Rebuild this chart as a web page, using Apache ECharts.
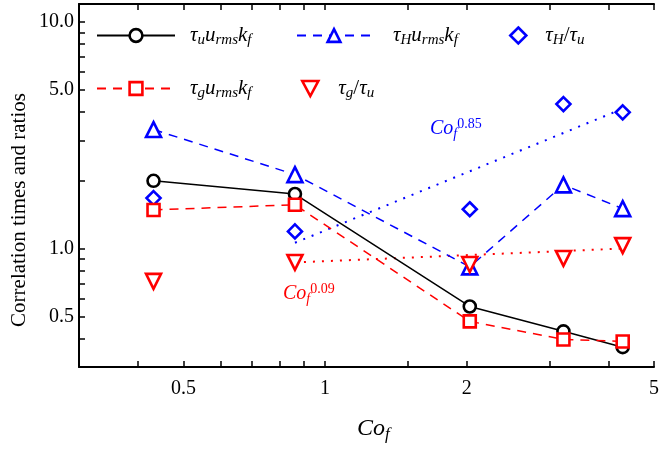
<!DOCTYPE html>
<html>
<head>
<meta charset="utf-8">
<script src="https://cdn.jsdelivr.net/npm/echarts@6/dist/echarts.min.js"></script>
<style>
html,body{margin:0;padding:0;background:#fff;}
#chart{width:662px;height:449px;}
</style>
</head>
<body>
<div id="chart"></div>
<script>
// ---- data ----
const cof = [0.432, 0.863, 2.03, 3.21, 4.29];
const tauU = [1.99, 1.74, 0.555, 0.431, 0.367];
const tauG = [1.48, 1.56, 0.477, 0.397, 0.389];
const tauH = [3.35, 2.12, 0.83, 1.91, 1.50];
const ratioH = [1.67, 1.19, 1.49, 4.34, 3.99];
const ratioG = [0.716, 0.868, 0.85, 0.904, 1.03];
const fitHx = [0.863, 4.29];
const fitHy = [1.06, 4.14];
const fitGx = [0.863, 4.29];
const fitGy = [0.868, 1.0];
const xTickLabels = [0.5, 1, 2, 5];
const xTicks = [0.4, 0.5, 0.6, 0.7, 0.8, 0.9, 1, 1.5, 2, 3, 4, 5];
const yTickLabels = [0.5, 1, 5, 10];
const yTicks = [0.4, 0.5, 0.6, 0.7, 0.8, 0.9, 1, 2, 3, 4, 5, 6, 7, 8, 9, 10];

const pairs = (xs, ys) => xs.map((x, i) => [x, ys[i]]);

const SERIF = 'Liberation Serif';
const BLUE = '#0000ff', RED = '#ff0000', BLACK = '#000000';
const INV_TRI = 'path://M0,0L16,0L8,15Z';

const rich = {
  i: {fontFamily: SERIF, fontStyle: 'italic', fontSize: 21, color: '#000'},
  n: {fontFamily: SERIF, fontSize: 21, color: '#000'},
  s: {fontFamily: SERIF, fontStyle: 'italic', fontSize: 15, color: '#000', padding: [9, 0, 0, 0]}
};
const legendNames = {
  'tauU': '{i|τ}{s|u}{i|u}{s|rms}{i|k}{s|f}',
  'tauH': '{i|τ}{s|H}{i|u}{s|rms}{i|k}{s|f}',
  'ratioH': '{i|τ}{s|H}{n|/}{i|τ}{s|u}',
  'tauG': '{i|τ}{s|g}{i|u}{s|rms}{i|k}{s|f}',
  'ratioG': '{i|τ}{s|g}{n|/}{i|τ}{s|u}'
};
function mkLegend(name, left, top, w, gap, icon) {
  return {
    data: [icon ? {name: name, icon: icon} : name], left: left, top: top, padding: 0,
    itemWidth: w, itemHeight: 16, itemGap: 0,
    selectedMode: false,
    formatter: n => legendNames[n],
    itemStyle: {borderWidth: 2.6},
    textStyle: {rich: rich, padding: [0, 0, 0, gap]}
  };
}

const axisCommon = {
  type: 'log', logBase: 10,
  axisLine: {show: true, lineStyle: {color: '#000', width: 2}},
  splitLine: {show: false},
  minorTick: {show: false},
  axisTick: {inside: true, length: 6, lineStyle: {color: '#000', width: 1.5}}
};

function markStyle(c) {
  return {color: '#fff', borderColor: c, borderWidth: 2.6, opacity: 1};
}

const option = {
  animation: false,
  backgroundColor: '#fff',
  grid: {left: 79, right: 2.5, top: 4, bottom: 82, containLabel: false},
  xAxis: [
    Object.assign({}, axisCommon, {
      min: 0.3, max: 5, position: 'bottom',
      axisTick: Object.assign({}, axisCommon.axisTick, {customValues: xTicks}),
      axisLabel: {customValues: xTickLabels, formatter: v => String(+v), margin: 12,
        fontFamily: SERIF, fontSize: 20, color: '#000'}
    }),
    Object.assign({}, axisCommon, {
      min: 0.3, max: 5, position: 'top',
      axisTick: Object.assign({}, axisCommon.axisTick, {customValues: xTicks}),
      axisLabel: {show: false}
    })
  ],
  yAxis: [
    Object.assign({}, axisCommon, {
      min: 0.3, max: 12,
      axisTick: Object.assign({}, axisCommon.axisTick, {customValues: yTicks}),
      axisLabel: {customValues: yTickLabels, formatter: v => (+v).toFixed(1), margin: 5,
        fontFamily: SERIF, fontSize: 20, color: '#000'}
    })
  ],
  legend: [
    mkLegend('tauU', 96, 25, 78, 10),
    mkLegend('tauH', 296, 25, 74, 17),
    mkLegend('ratioH', 509, 25, 16, 14),
    mkLegend('tauG', 96, 78, 78, 10),
    mkLegend('ratioG', 301, 78, 16, 15, INV_TRI)
  ],
  series: [
    {name: 'fitH', type: 'line', data: pairs(fitHx, fitHy), symbol: 'none', silent: true,
      lineStyle: {color: BLUE, width: 2, type: [2, 7]}, z: 1},
    {name: 'fitG', type: 'line', data: pairs(fitGx, fitGy), symbol: 'none', silent: true,
      lineStyle: {color: RED, width: 2, type: [2, 7]}, z: 1},
    {name: 'tauU', type: 'line', data: pairs(cof, tauU), symbol: 'circle', symbolSize: 12,
      itemStyle: markStyle(BLACK), lineStyle: {color: BLACK, width: 1.5}, z: 3},
    {name: 'tauH', type: 'line', data: pairs(cof, tauH), symbol: 'triangle', symbolSize: 15,
      itemStyle: markStyle(BLUE), lineStyle: {color: BLUE, width: 1.5, type: [9, 7]}, z: 3},
    {name: 'ratioH', type: 'scatter', data: pairs(cof, ratioH), symbol: 'diamond', symbolSize: 14,
      itemStyle: markStyle(BLUE), z: 3},
    {name: 'tauG', type: 'line', data: pairs(cof, tauG), symbol: 'rect', symbolSize: 12,
      itemStyle: markStyle(RED), lineStyle: {color: RED, width: 1.5, type: [9, 7]}, z: 3},
    {name: 'ratioG', type: 'scatter', data: pairs(cof, ratioG), symbol: 'triangle', symbolRotate: 180, symbolSize: 15,
      itemStyle: markStyle(RED), z: 4}
  ],
  graphic: [
    {type: 'text', x: 9, y: 210, rotation: Math.PI / 2,
      style: {text: 'Correlation times and ratios', font: '21px "Liberation Serif"', fill: '#000',
        align: 'center', verticalAlign: 'top'}},
    {type: 'text', x: 357, y: 414,
      style: {text: '{c|Co}{f|f}', rich: {
        c: {fontFamily: SERIF, fontStyle: 'italic', fontSize: 24, fill: '#000'},
        f: {fontFamily: SERIF, fontStyle: 'italic', fontSize: 17, fill: '#000', padding: [12, 0, 0, 0]}}}},
    {type: 'text', x: 430, y: 117,
      style: {text: '{c|Co}{f|f}{e|0.85}', rich: {
        c: {fontFamily: SERIF, fontStyle: 'italic', fontSize: 20, fill: BLUE},
        f: {fontFamily: SERIF, fontStyle: 'italic', fontSize: 14, fill: BLUE, padding: [10, 0, 0, 0]},
        e: {fontFamily: SERIF, fontSize: 14, fill: BLUE, padding: [0, 0, 10, 0]}}}},
    {type: 'text', x: 283, y: 282,
      style: {text: '{c|Co}{f|f}{e|0.09}', rich: {
        c: {fontFamily: SERIF, fontStyle: 'italic', fontSize: 20, fill: RED},
        f: {fontFamily: SERIF, fontStyle: 'italic', fontSize: 14, fill: RED, padding: [10, 0, 0, 0]},
        e: {fontFamily: SERIF, fontSize: 14, fill: RED, padding: [0, 0, 10, 0]}}}}
  ]
};

const chart = echarts.init(document.getElementById('chart'), null, {renderer: 'canvas'});
chart.setOption(option);
</script>
</body>
</html>
